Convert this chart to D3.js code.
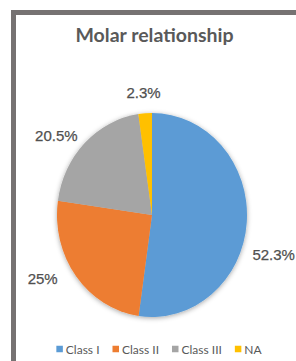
<!DOCTYPE html>
<html>
<head>
<meta charset="utf-8">
<script src="https://cdn.jsdelivr.net/npm/d3@7"></script>
<style>
  body { margin: 0; background: #fff; }
  svg { display: block; }
</style>
</head>
<body>
<div id="chart"></div>
<script>
// chart data
var categories = ['Class I', 'Class II', 'Class III', 'NA'];
var values = [52.3, 25, 20.5, 2.3];
var labels = ['52.3%', '25%', '20.5%', '2.3%'];
var colors = ['#5b9bd5', '#ed7d31', '#a5a5a5', '#ffc000'];
var title = 'Molar relationship';

var W = 296, H = 361;
var cx = 152, cy = 215, r = 95, sy = 102 / 95;

var svg = d3.select('#chart').append('svg')
    .attr('width', W)
    .attr('height', H);

var defs = svg.append('defs');
var f = defs.append('filter').attr('id', 'shadow')
    .attr('x', '-20%').attr('y', '-20%').attr('width', '140%').attr('height', '140%');
f.append('feDropShadow')
    .attr('dx', 0).attr('dy', 1)
    .attr('stdDeviation', 2.5)
    .attr('flood-color', '#000')
    .attr('flood-opacity', 0.35);

/* --------- FRAME ---------*/
svg.append('rect')
    .attr('x', 13.5).attr('y', 12.5)
    .attr('width', 400).attr('height', 400)
    .attr('fill', '#fff')
    .attr('stroke', '#767272')
    .attr('stroke-width', 5);

/* --------- TITLE ---------*/
svg.append('text')
    .attr('x', 154.5).attr('y', 41.5)
    .attr('text-anchor', 'middle')
    .attr('font-family', 'Lato, sans-serif')
    .attr('font-weight', 'bold')
    .attr('font-size', 19.5)
    .attr('fill', '#595959')
    .text(title);

/* --------- PIE ---------*/
var data = categories.map(function (c, i) {
    return { name: c, value: values[i], label: labels[i], color: colors[i] };
});
var pie = d3.pie().sort(null).value(function (d) { return d.value; });
var arcs = pie(data);
var arc = d3.arc().innerRadius(0).outerRadius(r);
var labelArc = d3.arc().innerRadius(118).outerRadius(118);

var g = svg.append('g')
    .attr('transform', 'translate(' + cx + ',' + cy + ') scale(1,' + sy + ')');

g.append('g')
    .attr('filter', 'url(#shadow)')
    .selectAll('path')
    .data(arcs)
    .enter()
    .append('path')
    .attr('d', arc)
    .attr('fill', function (d) { return d.data.color; });

/* --------- LABELS ---------*/
// excel "best fit" nudges
var nudge = { 'Class I': [4, 31], 'Class II': [-15, -13], 'Class III': [-12, 10], 'NA': [0, 4] };

svg.append('g')
    .selectAll('text')
    .data(arcs)
    .enter()
    .append('text')
    .attr('x', function (d) { return cx + labelArc.centroid(d)[0] + nudge[d.data.name][0]; })
    .attr('y', function (d) { return cy + labelArc.centroid(d)[1] * sy + nudge[d.data.name][1]; })
    .attr('text-anchor', 'middle')
    .attr('dominant-baseline', 'central')
    .attr('font-family', '"Liberation Sans", Arial, sans-serif')
    .attr('font-size', 15)
    .attr('fill', '#505050')
    .attr('stroke', '#505050')
    .attr('stroke-width', 0.25)
    .text(function (d) { return d.data.label; });

/* --------- LEGEND ---------*/
var legend = svg.append('g');
var items = legend.selectAll('g')
    .data(data)
    .enter()
    .append('g');

items.append('rect')
    .attr('width', 6.5).attr('height', 6.5)
    .attr('y', -3.25)
    .attr('fill', function (d) { return d.color; });

items.append('text')
    .attr('x', 9.5)
    .attr('dominant-baseline', 'central')
    .attr('font-family', 'Lato, sans-serif')
    .attr('font-size', 12)
    .attr('fill', '#595959')
    .text(function (d) { return d.name; });

var xpos = 0;
items.each(function () {
    var w = d3.select(this).select('text').node().getComputedTextLength();
    d3.select(this).attr('transform', 'translate(' + xpos + ',0)');
    xpos += 9.5 + w + 13;
});
var total = xpos - 13;
legend.attr('transform', 'translate(' + (159 - total / 2) + ',349)');
</script>
</body>
</html>
